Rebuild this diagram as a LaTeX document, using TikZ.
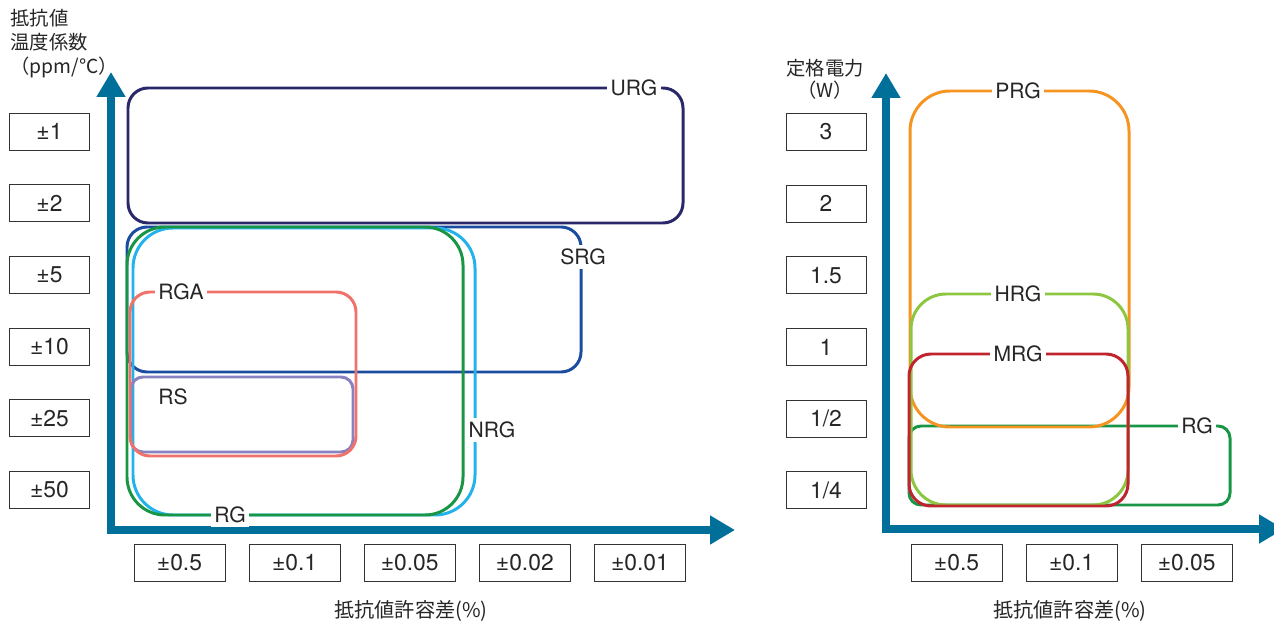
\documentclass[tikz,border=0pt]{standalone}
\usepackage{fontspec}
\setmainfont{TeX Gyre Heros}
\newfontfamily\jp{Noto Sans CJK JP}
\usepackage{xcolor}
\usetikzlibrary{arrows.meta, positioning}
\definecolor{axisblue}{RGB}{0,112,155}
\definecolor{urgcol}{RGB}{42,40,104}
\definecolor{srgcol}{RGB}{26,76,160}
\definecolor{nrgcol}{RGB}{35,178,235}
\definecolor{rgcol}{RGB}{24,150,70}
\definecolor{rgacol}{RGB}{240,114,106}
\definecolor{rscol}{RGB}{136,130,192}
\definecolor{prgcol}{RGB}{246,148,34}
\definecolor{hrgcol}{RGB}{141,198,65}
\definecolor{mrgcol}{RGB}{192,36,46}
\tikzstyle{valbox} = [rectangle, draw=black!80, line width=0.5pt, minimum width=1.6cm, minimum height=0.74cm, inner sep=0pt, font=\fontsize{13}{15}\selectfont, text=black!85]
\tikzstyle{errbox} = [valbox, minimum width=1.82cm]
\tikzstyle{region} = [line width=1.7pt]
\tikzstyle{tag} = [fill=white, inner sep=2pt, font=\fontsize{12}{14}\selectfont, text=black!85]
\tikzstyle{title} = [inner sep=0pt, font=\jp\fontsize{11}{13.6}\selectfont, text=black!85]
\tikzstyle{axisarrow} = [line width=4pt, draw=axisblue, {Triangle[length=0.5cm,width=0.55cm]}-{Triangle[length=0.5cm,width=0.55cm]}]

\begin{document}
\begin{tikzpicture}[x=0.02cm, y=-0.02cm]
    \useasboundingbox (0,0) rectangle (1274,621);

    % Left chart: titles
    \node (tcrtitle) [title, align=left, anchor=north west] at (10,9) {抵抗値\\温度係数\\（ppm/℃）};
    \node (toltitle) [title, anchor=center, font=\jp\fontsize{11.5}{13.6}\selectfont] at (411,611) {抵抗値許容差(\%)};

    % Left chart: TCR boxes
    \node (tcr1) [valbox] at (49.5,131.5) {±1};
    \node (tcr2) [valbox, below=0.676cm of tcr1] {±2};
    \node (tcr5) [valbox, below=0.676cm of tcr2] {±5};
    \node (tcr10) [valbox, below=0.676cm of tcr5] {±10};
    \node (tcr25) [valbox, below=0.676cm of tcr10] {±25};
    \node (tcr50) [valbox, below=0.676cm of tcr25] {±50};

    % Left chart: tolerance boxes
    \node (tol05) [errbox] at (179.5,562.5) {±0.5};
    \node (tol01) [errbox, right=0.465cm of tol05] {±0.1};
    \node (tol005) [errbox, right=0.465cm of tol01] {±0.05};
    \node (tol002) [errbox, right=0.465cm of tol005] {±0.02};
    \node (tol001) [errbox, right=0.465cm of tol002] {±0.01};

    % Left chart: axes
    \draw [axisarrow] (111,72) -- (111,530) -- (735,530);

    % Left chart: series
    \draw [region, urgcol, rounded corners=0.4cm] (128,88) rectangle (683,223);
    \draw [region, srgcol, rounded corners=0.4cm] (127,227) rectangle (581,372);
    \draw [region, nrgcol, rounded corners=0.8cm] (133,228) rectangle (475,515);
    \draw [region, rgcol, rounded corners=0.76cm] (127,227) rectangle (463,515);
    \draw [region, rscol, rounded corners=0.24cm] (131,377) rectangle (353,452);
    \draw [region, rgacol, rounded corners=0.4cm] (130,292) rectangle (356,456);

    \node (urg) [tag] at (634,88) {URG};
    \node (srg) [tag] at (583,257) {SRG};
    \node (nrg) [tag] at (492,430) {NRG};
    \node (rgl) [tag] at (230,515) {RG};
    \node (rga) [tag] at (181,292) {RGA};
    \node (rs) [tag] at (173,397) {RS};

    % Right chart: titles
    \node (powtitle) [title, align=center, anchor=north, font=\jp\fontsize{11}{12.5}\selectfont] at (825,59) {定格電力\\（W）};
    \node (toltitle2) [title, anchor=center, font=\jp\fontsize{11.5}{13.6}\selectfont] at (1070,611) {抵抗値許容差(\%)};

    % Right chart: power boxes
    \node (pow3) [valbox] at (826,132) {3};
    \node (pow2) [valbox, below=0.676cm of pow3] {2};
    \node (pow15) [valbox, below=0.676cm of pow2] {1.5};
    \node (pow1) [valbox, below=0.676cm of pow15] {1};
    \node (powhalf) [valbox, below=0.676cm of pow1] {1/2};
    \node (powquarter) [valbox, below=0.676cm of powhalf] {1/4};

    % Right chart: tolerance boxes
    \node (rtol05) [errbox] at (956.5,562.5) {±0.5};
    \node (rtol01) [errbox, right=0.465cm of rtol05] {±0.1};
    \node (rtol005) [errbox, right=0.465cm of rtol01] {±0.05};

    % Right chart: axes
    \draw [axisarrow] (886,73) -- (886,529) -- (1284,529);

    % Right chart: series
    \draw [region, rgcol, rounded corners=0.24cm] (909,426) rectangle (1230,505);
    \draw [region, prgcol, rounded corners=0.8cm] (910,91) rectangle (1129,427);
    \draw [region, hrgcol, rounded corners=0.7cm] (911,294) rectangle (1128,505);
    \draw [region, mrgcol, rounded corners=0.44cm] (909,354) rectangle (1128,506);

    \node (prg) [tag] at (1018,91) {PRG};
    \node (hrg) [tag] at (1018,294) {HRG};
    \node (mrg) [tag] at (1018,354) {MRG};
    \node (rgr) [tag] at (1197,426) {RG};
\end{tikzpicture}
\end{document}
